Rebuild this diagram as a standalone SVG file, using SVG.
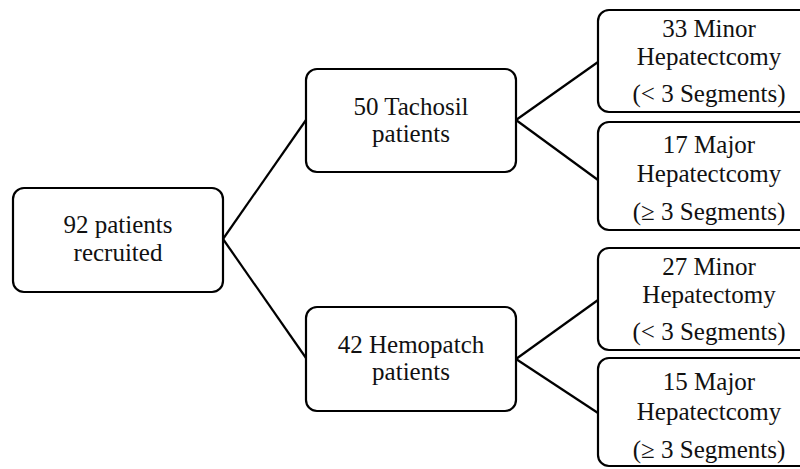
<svg xmlns="http://www.w3.org/2000/svg" width="800" height="469" viewBox="0 0 800 469">
<style>
.box{fill:#fff;stroke:#000;stroke-width:2.2}
.c{stroke:#000;stroke-width:2.2;fill:none}
</style>
<rect width="800" height="469" fill="#fff"/>
<g id="connectors">
<line class="c" x1="223" y1="239" x2="306" y2="120"/>
<line class="c" x1="223" y1="239" x2="306" y2="358"/>
<line class="c" x1="516" y1="120" x2="598" y2="62"/>
<line class="c" x1="516" y1="120" x2="598" y2="180"/>
<line class="c" x1="516" y1="359" x2="598" y2="300"/>
<line class="c" x1="516" y1="359" x2="598" y2="413"/>
</g>
<g font-family="Liberation Serif, DejaVu Serif, serif" font-size="25" fill="#111" text-anchor="middle">
<g id="n_recruited">
<rect class="box" x="13" y="188" width="210" height="104" rx="11"/>
<text x="118" y="233">92 patients</text>
<text x="118" y="261">recruited</text>
</g>
<g id="n_tachosil">
<rect class="box" x="306" y="69" width="210" height="103" rx="11"/>
<text x="411" y="115">50 Tachosil</text>
<text x="411" y="142">patients</text>
</g>
<g id="n_hemopatch">
<rect class="box" x="306" y="307" width="210" height="104" rx="11"/>
<text x="411" y="353">42 Hemopatch</text>
<text x="411" y="380">patients</text>
</g>
<g id="n_t_minor">
<rect class="box" x="598" y="10" width="220" height="102" rx="11"/>
<text x="709" y="37">33 Minor</text>
<text x="709" y="65">Hepatectcomy</text>
<text x="709" y="102">(&lt; 3 Segments)</text>
</g>
<g id="n_t_major">
<rect class="box" x="598" y="122" width="220" height="108" rx="11"/>
<text x="709" y="153">17 Major</text>
<text x="709" y="182">Hepatectcomy</text>
<text x="709" y="220">(≥ 3 Segments)</text>
</g>
<g id="n_h_minor">
<rect class="box" x="598" y="248" width="220" height="102" rx="11"/>
<text x="709" y="275">27 Minor</text>
<text x="709" y="303">Hepatectomy</text>
<text x="709" y="340">(&lt; 3 Segments)</text>
</g>
<g id="n_h_major">
<rect class="box" x="598" y="358" width="220" height="108" rx="11"/>
<text x="709" y="390">15 Major</text>
<text x="709" y="420">Hepatectcomy</text>
<text x="709" y="458">(≥ 3 Segments)</text>
</g>
</g>
</svg>
